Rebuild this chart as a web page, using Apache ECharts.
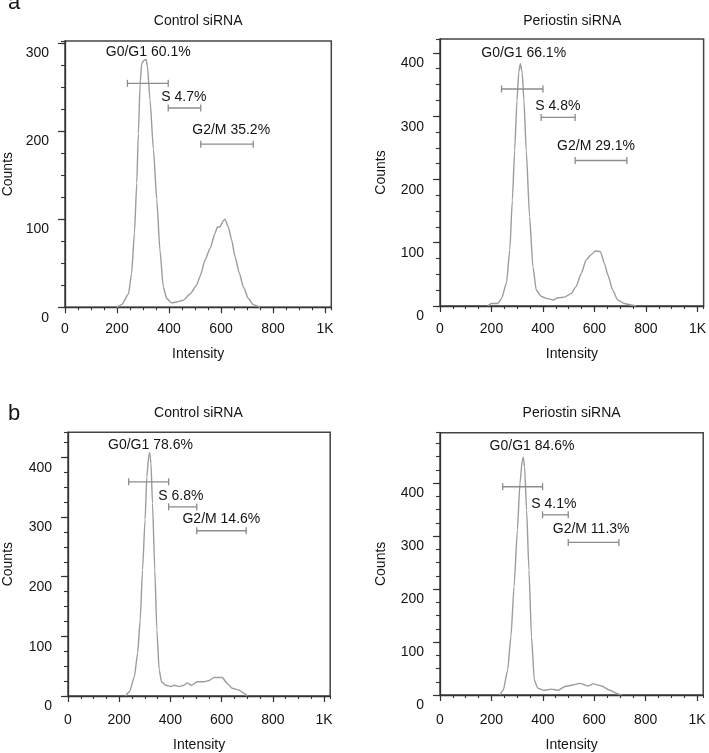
<!DOCTYPE html>
<html><head><meta charset="utf-8">
<script src="https://cdn.jsdelivr.net/npm/echarts@6/dist/echarts.min.js"></script>
<style>html,body{margin:0;padding:0;background:#fff}#c{width:709px;height:753px}</style>
</head><body><div id="c"></div><script>
// ---------- data ----------
const panelTitles = ['Control siRNA', 'Periostin siRNA', 'Control siRNA', 'Periostin siRNA'];
const panelLetters = ['a', 'b'];
const xTickLabels = ['0', '200', '400', '600', '800', '1K'];
const xAxisName = 'Intensity';
const yAxisName = 'Counts';
const yMaxValues = [302, 422, 442, 495];

const intensityActrl = [199, 218, 244, 256, 267, 276, 282, 289, 295, 304, 312, 317, 327, 340, 353, 365, 378, 391, 410, 429, 455, 481, 506, 519, 539, 558, 577, 586, 596, 606, 615, 628, 641, 654, 671, 686, 705, 724, 750];
const countsActrl    = [0, 3, 15, 38, 84, 141, 197, 254, 277, 280, 281, 273, 235, 179, 122, 65, 23, 10, 5, 6, 8, 15, 25, 35, 54, 67, 84, 91, 91, 97, 100, 91, 76, 57, 38, 23, 10, 3, 0];

const intensityAperi = [185, 200, 225, 239, 258, 271, 281, 290, 299, 306, 312, 319, 326, 335, 348, 361, 374, 394, 413, 439, 458, 484, 510, 529, 549, 568, 587, 603, 623, 639, 652, 671, 690, 716, 742, 761];
const countsAperi    = [0, 4, 4, 12, 36, 88, 167, 246, 325, 370, 383, 370, 325, 246, 141, 62, 25, 15, 12, 9.5, 13, 14, 20, 31, 52, 73, 81, 87, 86, 67, 49, 25, 9.5, 4, 1.5, 0];

const intensityBctrl = [225, 240, 259, 272, 282, 291, 301, 308, 315, 319, 324, 330, 339, 347, 356, 365, 382, 402, 415, 434, 453, 466, 482, 505, 531, 551, 570, 602, 622, 641, 667, 687, 700];
const countsBctrl    = [0, 7, 32, 72, 127, 211, 295, 368, 401, 408, 390, 323, 211, 111, 44, 24, 18, 16, 18, 16, 18, 22, 18, 24, 24, 26, 31, 31, 21, 13, 10, 4.5, 0];

const intensityBperi = [233, 246, 263, 276, 288, 301, 311, 320, 324, 329, 337, 346, 356, 367, 380, 402, 434, 460, 486, 518, 544, 576, 596, 628, 661, 693, 706];
const countsBperi    = [0, 9, 47, 110, 204, 311, 399, 443, 449, 430, 349, 236, 110, 28, 13, 9, 11, 9, 16, 19, 22, 17, 21, 17, 9, 2, 0];

const gateNames = ['G0/G1', 'S', 'G2/M'];
const gatePctActrl = [60.1, 4.7, 35.2];
const gatePctAperi = [66.1, 4.8, 29.1];
const gatePctBctrl = [78.6, 6.8, 14.6];
const gatePctBperi = [84.6, 4.1, 11.3];

// gate [start, end, count level]
const gatesActrl = [[240, 397, 254], [397, 522, 226], [522, 724, 185]];
const gatesAperi = [[239, 400, 343], [393, 525, 298], [525, 726, 230]];
const gatesBctrl = [[237, 393, 359], [393, 503, 317], [503, 696, 277]];
const gatesBperi = [[244, 399, 393], [399, 499, 340], [499, 696, 288]];

// gate label anchors [intensity, count]
const gateLabelAtActrl = [[320, 289], [457, 238], [639, 201]];
const gateLabelAtAperi = [[325, 399], [458, 316], [606, 252]];
const gateLabelAtBctrl = [[322, 420], [441, 335], [599, 296]];
const gateLabelAtBperi = [[358, 470], [443, 361], [588, 313]];

// ---------- layout ----------
const FONT = '"Liberation Sans", Arial, Helvetica, sans-serif';
const grids = [
  {left: 65, top: 41, width: 266.3, height: 266.3},
  {left: 440, top: 39, width: 264.5, height: 267},
  {left: 66.7, top: 432.3, width: 263.5, height: 263.7},
  {left: 440, top: 432.7, width: 263.2, height: 262.3}
];
const xLabelMargin = [15, 16, 17, 18];
const xNameGap = [40, 41, 42, 43];
const yNameGap = [50, 52, 53, 52];

const panels = [
  {x: intensityActrl, y: countsActrl, pct: gatePctActrl, gates: gatesActrl, lab: gateLabelAtActrl},
  {x: intensityAperi, y: countsAperi, pct: gatePctAperi, gates: gatesAperi, lab: gateLabelAtAperi},
  {x: intensityBctrl, y: countsBctrl, pct: gatePctBctrl, gates: gatesBctrl, lab: gateLabelAtBctrl},
  {x: intensityBperi, y: countsBperi, pct: gatePctBperi, gates: gatesBperi, lab: gateLabelAtBperi}
];

const AX = '#333';
const TXT = '#141414';
const xAxes = [], yAxes = [], series = [], graphics = [];
panels.forEach((p, i) => {
  xAxes.push({
    type: 'value', gridIndex: i, min: 0, max: 1024, interval: 200, position: 'bottom',
    axisLine: {show: true, onZero: false, lineStyle: {color: AX, width: 1.3}},
    axisTick: {show: true, length: 6, lineStyle: {color: AX, width: 1.2}},
    axisLabel: {margin: xLabelMargin[i], fontSize: 14, color: TXT, fontFamily: FONT,
      showMaxLabel: false,
      formatter: v => (v % 200 === 0 ? xTickLabels[v / 200] : '')},
    splitLine: {show: false},
    name: xAxisName, nameLocation: 'middle', nameGap: xNameGap[i], nameMoveOverlap: false,
    nameTextStyle: {fontSize: 14, color: TXT, fontFamily: FONT}
  });
  xAxes.push({
    type: 'value', gridIndex: i, min: 0, max: 1024, interval: 50, position: 'bottom',
    axisLine: {show: false, onZero: false},
    axisTick: {show: true, length: 3, lineStyle: {color: AX, width: 1.1}},
    axisLabel: {show: false}, splitLine: {show: false}
  });
  yAxes.push({
    type: 'value', gridIndex: i, min: 0, max: yMaxValues[i], interval: 100, position: 'left',
    axisLine: {show: true, onZero: false, lineStyle: {color: AX, width: 1.3}},
    axisTick: {show: true, length: 7, lineStyle: {color: AX, width: 1.2}},
    axisLabel: {margin: 16, fontSize: 14, color: TXT, fontFamily: FONT,
      verticalAlign: 'top', lineHeight: 21, showMaxLabel: false,
      formatter: v => (v % 100 === 0 ? String(v) : '')},
    splitLine: {show: false},
    name: yAxisName, nameLocation: 'middle', nameGap: yNameGap[i], nameMoveOverlap: false,
    nameTextStyle: {fontSize: 14, color: TXT, fontFamily: FONT}
  });
  yAxes.push({
    type: 'value', gridIndex: i, min: 0, max: yMaxValues[i], interval: 25, position: 'left',
    axisLine: {show: false, onZero: false},
    axisTick: {show: true, length: 4, lineStyle: {color: AX, width: 1.1}},
    axisLabel: {show: false}, splitLine: {show: false}
  });

  series.push({
    type: 'line', xAxisIndex: 2 * i, yAxisIndex: 2 * i,
    data: p.x.map((v, k) => [v, p.y[k]]),
    showSymbol: false, smooth: 0.2, smoothMonotone: 'x',
    lineStyle: {color: '#9c9c9c', width: 1.4}, z: 3, silent: true
  });
  series.push({
    type: 'custom', xAxisIndex: 2 * i, yAxisIndex: 2 * i,
    data: p.gates, encode: {x: [0, 1], y: 2}, z: 4, silent: true,
    renderItem: (params, api) => {
      const a = api.coord([api.value(0), api.value(2)]);
      const b = api.coord([api.value(1), api.value(2)]);
      const c = 3.5, st = {stroke: '#8c8c8c', lineWidth: 1.3};
      return {type: 'group', children: [
        {type: 'line', shape: {x1: a[0], y1: a[1], x2: b[0], y2: b[1]}, style: st},
        {type: 'line', shape: {x1: a[0], y1: a[1] - c, x2: a[0], y2: a[1] + c}, style: st},
        {type: 'line', shape: {x1: b[0], y1: b[1] - c, x2: b[0], y2: b[1] + c}, style: st}
      ]};
    }
  });
  const labelTexts = p.lab.map((v, k) => gateNames[k] + ' ' + p.pct[k].toFixed(1) + '%');
  series.push({
    type: 'custom', xAxisIndex: 2 * i, yAxisIndex: 2 * i, z: 5, silent: true,
    data: p.lab, encode: {x: 0, y: 1},
    renderItem: (params, api) => {
      const pt = api.coord([api.value(0), api.value(1)]);
      return {type: 'text', x: pt[0], y: pt[1],
        style: {text: labelTexts[params.dataIndex], fill: TXT, font: '14px ' + FONT,
          textAlign: 'center', textVerticalAlign: 'middle'}};
    }
  });

  const g = grids[i];
  graphics.push({
    type: 'text', x: g.left + g.width / 2, y: i < 2 ? 21 : 413.5,
    style: {text: panelTitles[i], fill: TXT, font: '14px ' + FONT, textAlign: 'center', textVerticalAlign: 'middle'}
  });
});
graphics.push({type: 'text', x: 14, y: 3, style: {text: panelLetters[0], fill: TXT, font: '22px ' + FONT, textAlign: 'center', textVerticalAlign: 'middle'}});
graphics.push({type: 'text', x: 14, y: 414, style: {text: panelLetters[1], fill: TXT, font: '22px ' + FONT, textAlign: 'center', textVerticalAlign: 'middle'}});

const chart = echarts.init(document.getElementById('c'), null, {renderer: 'canvas'});
chart.setOption({
  animation: false,
  backgroundColor: '#fff',
  grid: grids.map(g => Object.assign({show: true, borderColor: '#444', borderWidth: 1.5, backgroundColor: 'transparent', containLabel: false}, g)),
  xAxis: xAxes,
  yAxis: yAxes,
  series: series,
  graphic: graphics
});
</script></body></html>
